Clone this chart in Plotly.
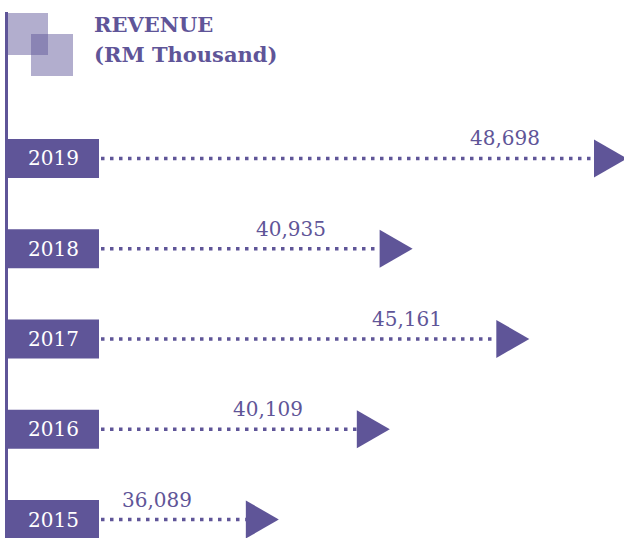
import plotly.graph_objects as go

# ---- data ----
years = [2019, 2018, 2017, 2016, 2015]
revenue = [48698, 40935, 45161, 40109, 36089]
value_labels = ["48,698", "40,935", "45,161", "40,109", "36,089"]
title_lines = ["REVENUE", "(RM Thousand)"]

# ---- layout constants ----
W, H = 624, 538
X_RANGE = [25990, 48590]
Y_RANGE = [2014.795, 2020.756]
PURPLE = "#5F5598"
SERIF = "DejaVu Serif"


def px_x(p):
    return X_RANGE[0] + p / W * (X_RANGE[1] - X_RANGE[0])


def dx_px(p):
    return p / W * (X_RANGE[1] - X_RANGE[0])


def dy_px(p):
    return p / H * (Y_RANGE[1] - Y_RANGE[0])


fig = go.Figure()
shapes = []
annotations = []

# vertical timeline line
shapes.append(dict(type="line", xref="paper", yref="paper",
                   x0=6.5 / W, x1=6.5 / W, y0=0, y1=1 - 12 / H,
                   line=dict(color=PURPLE, width=3), layer="below"))
# decorative squares
for (x0, y0, x1, y1) in [(7, 13, 48, 55), (31, 34, 73, 76)]:
    shapes.append(dict(type="rect", xref="paper", yref="paper",
                       x0=x0 / W, x1=x1 / W, y0=1 - y1 / H, y1=1 - y0 / H,
                       fillcolor=PURPLE, opacity=0.48, line=dict(width=0)))

# title
annotations.append(dict(text="<b>%s</b>" % title_lines[0], xref="paper", yref="paper",
                        x=92 / W, y=1 - 25 / H, xanchor="left", yanchor="middle",
                        showarrow=False, font=dict(family=SERIF, size=21, color=PURPLE)))
annotations.append(dict(text="<b>%s</b>" % title_lines[1], xref="paper", yref="paper",
                        x=92 / W, y=1 - 55 / H, xanchor="left", yanchor="middle",
                        showarrow=False, font=dict(family=SERIF, size=21, color=PURPLE)))

arrow_w = dx_px(33)
arrow_h = dy_px(19)
for yr, v, lab in zip(years, revenue, value_labels):
    base = v - arrow_w
    fig.add_trace(go.Scatter(
        x=[px_x(101), base], y=[yr, yr], mode="lines",
        line=dict(color=PURPLE, width=3.5, dash="3.5px,5.5px"),
        hoverinfo="skip", showlegend=False))
    shapes.append(dict(type="path", xref="x", yref="y",
                       path="M %f %f L %f %f L %f %f Z" % (base, yr - arrow_h, v, yr, base, yr + arrow_h),
                       fillcolor=PURPLE, line=dict(width=0)))
    shapes.append(dict(type="rect", xref="paper", yref="y",
                       x0=7 / W, x1=99 / W, y0=yr - dy_px(19.5), y1=yr + dy_px(19.5),
                       fillcolor=PURPLE, line=dict(width=0)))
    annotations.append(dict(text=str(yr), xref="paper", yref="y", x=53 / W, y=yr,
                            xanchor="center", yanchor="middle", showarrow=False,
                            font=dict(family=SERIF, size=20, color="white")))
    # label anchored at the arrow base (inside the axis range)
    annotations.append(dict(text=lab, xref="x", yref="y", x=base, y=yr,
                            xanchor="right", yanchor="middle", xshift=-52, yshift=20,
                            showarrow=False,
                            font=dict(family=SERIF, size=20, color=PURPLE)))

fig.update_layout(
    width=W, height=H,
    margin=dict(l=0, r=0, t=0, b=0),
    paper_bgcolor="white", plot_bgcolor="white",
    xaxis=dict(range=X_RANGE, visible=False, fixedrange=True),
    yaxis=dict(range=Y_RANGE, visible=False, fixedrange=True),
    shapes=shapes, annotations=annotations,
    showlegend=False,
)

fig.write_html("out.html", config={"displayModeBar": False},
               post_script="document.body.style.margin='0';")
